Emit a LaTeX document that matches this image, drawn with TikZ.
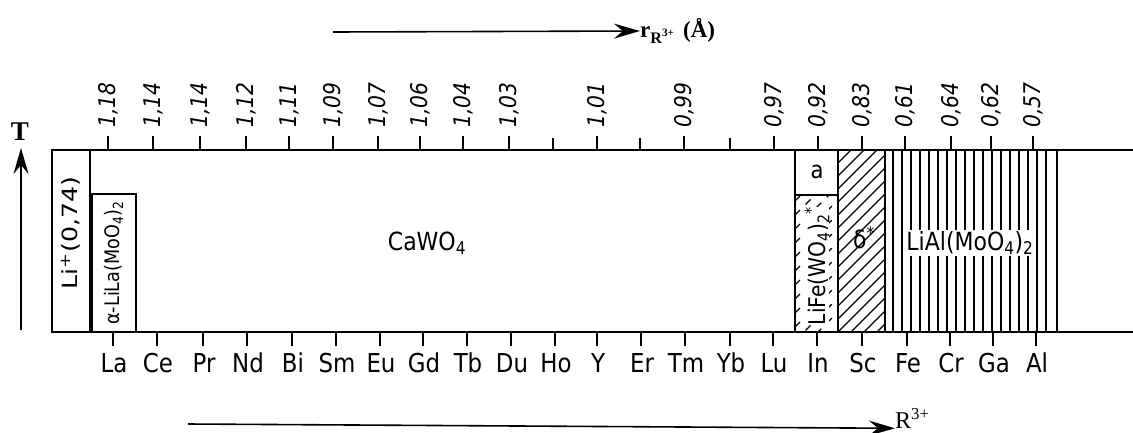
\documentclass[tikz,border=0pt]{standalone}
\usepackage{fontspec}
\setmainfont{Liberation Serif}
\newfontfamily\hand[FakeStretch=0.88]{DejaVu Sans}
\newfontfamily\handwide[FakeStretch=1.2]{DejaVu Sans}
\usetikzlibrary{arrows.meta}

\begin{document}
\begin{tikzpicture}[x=1pt,y=-1pt,
  frame/.style={line width=2pt},
  tick/.style={line width=1.4pt},
  hatch/.style={line width=1.2pt},
  toplab/.style={font=\hand\itshape\fontsize{23}{23}\selectfont,rotate=90,anchor=west,inner sep=0pt},
  botlab/.style={font=\hand\fontsize{26}{26}\selectfont,anchor=base,inner sep=0pt},
  phase/.style={font=\hand\fontsize{#1}{#1}\selectfont,inner sep=1pt},
  axarrow/.style={line width=1.6pt,-{Stealth[length=26pt,width=15pt,inset=9pt]}},
  axlab/.style={font=\fontsize{24}{24}\selectfont,inner sep=0pt}
]
\useasboundingbox (0,0) rectangle (1133,432);

% direction arrows with their labels
\coordinate (rstart) at (333,32);
\node[axlab,anchor=west,font=\bfseries\fontsize{23}{23}\selectfont] (rlab) at (640,31)
  {r\textsubscript{R\textsuperscript{3+}}\hspace{8pt}(Å)};
\draw[axarrow] (rstart) -- (rlab.west);

\coordinate (Rstart) at (188,424);
\node[axlab,anchor=west] (Rlab) at (895,418) {R\textsuperscript{3+}};
\draw[axarrow] (Rstart) -- (Rlab.south west);

\coordinate (Tstart) at (21,330);
\coordinate (Ttip) at (21,148);
\node[axlab,anchor=base,font=\bfseries\fontsize{27}{27}\selectfont] (Tlab) at (20,140) {T};
\draw[axarrow] (Tstart) -- (Ttip);

% hatching of the right-hand phase fields
\begin{scope}
  \clip (838,150) rectangle (885,332);
  \foreach \c in {0,13,...,247} \draw[hatch] (838,150+\c) -- ++(220,-220);
\end{scope}
\begin{scope}
  \clip (795,195) rectangle (838,332);
  \foreach \c in {6,20,...,200} \draw[hatch,dash pattern=on 7pt off 8pt] (795,195+\c) -- ++(220,-220);
\end{scope}
\foreach \x in {893,902,...,1052} \draw[hatch] (\x,150) -- (\x,332);

% outline of the diagram
\draw[frame] (1133,150) -- (52,150) -- (52,332) -- (1133,332);
\draw[frame] (90,150) -- (90,332);
\draw[frame] (92,332) -- (92,194) -- (136,194) -- (136,332);
\draw[frame] (795,150) rectangle (1057,332);
\draw[frame] (795,195) -- (838,195);
\draw[frame] (838,150) -- (838,332);
\draw[frame] (885,150) -- (885,332);

% ionic radii on the upper scale
\foreach \x/\lab [count=\i] in {108/{1,18},153/{1,14},200/{1,14},246/{1,12},289/{1,11},333/{1,09},378/{1,07},420/{1,06},463/{1,04},509/{1,03},597/{1,01},684/{0,99},774/{0,97},818/{0,92},862/{0,83},905/{0,61},951/{0,64},991/{0,62},1033/{0,57}}
{
  \draw[tick] (\x,136) -- (\x,150);
  \node[toplab] (rad\i) at (\x,128) {\lab};
}
\foreach \x in {553,640,730} \draw[tick] (\x,138) -- (\x,150);

% elements on the lower scale
\foreach \x/\el in {113/La,157/Ce,203/Pr,247/Nd,292/Bi,336/Sm,380/Eu,423/Gd,467/Tb,511/Du,555/Ho,597/Y,641/Er,685/Tm,730/Yb,773/Lu,817/In,862/Sc,907/Fe,950/Cr,993/Ga,1036/Al}
{
  \draw[tick] (\x,332) -- (\x,346);
  \node[botlab] (el\el) at (\x+1,372) {\el};
}

% phase fields
\node[phase=21,rotate=90,font=\handwide\fontsize{21}{21}\selectfont] (liplus) at (71,233) {Li\textsuperscript{+}(0,74)};
\node[phase=20,rotate=90] (alpha) at (114,263) {α-LiLa(MoO\textsubscript{4})\textsubscript{2}};
\node[phase=25] (cawo) at (427,243) {CaWO\textsubscript{4}};
\node[phase=24] (aph) at (817,172) {a};
\node[phase=23,rotate=90,fill=white,inner sep=0pt] (life) at (817,266) {LiFe(WO\textsubscript{4})\textsubscript{2}\textsuperscript{*}};
\node[phase=25] (delta) at (864,238) {δ\textsuperscript{*}};
\node[phase=25,fill=white] (lial) at (970,243) {LiAl(MoO\textsubscript{4})\textsubscript{2}};
\end{tikzpicture}
\end{document}
